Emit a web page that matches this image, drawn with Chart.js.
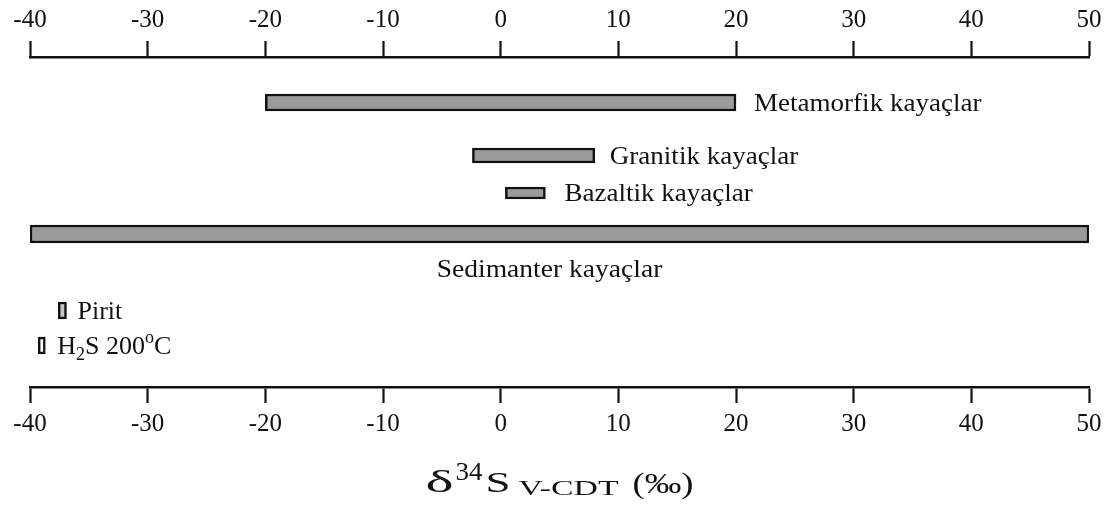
<!DOCTYPE html>
<html>
<head>
<meta charset="utf-8">
<script src="https://cdn.jsdelivr.net/npm/chart.js@4.4.1/dist/chart.umd.min.js"></script>
<style>
  html, body { margin: 0; padding: 0; background: #ffffff; }
  canvas { display: block; }
</style>
</head>
<body>
<canvas id="chart" width="1120" height="516"></canvas>
<script>
// δ34S ranges (‰, V-CDT) of rock types and sulfur sources.
// "_x" marks a subscript character, "^x" a superscript character.
const categories = ['Metamorfik kayaçlar', 'Granitik kayaçlar', 'Bazaltik kayaçlar',
                    'Sedimanter kayaçlar', 'Pirit', 'H_2S 200^oC'];
const rangeLow  = [-20, -2.4, 0.4, -40, -37.6, -39.3];
const rangeHigh = [ 20,  8,   3.8,  50, -36.9, -38.7];
const xTicks = [-40, -30, -20, -10, 0, 10, 20, 30, 40, 50];

// Row layout: vertical slot, bar thickness, fill, where the label goes.
const rowSlot      = [4.55, 9.85, 13.6, 17.7, 25.35, 28.85];
const rowThickness = [17, 15, 12, 18, 17, 17];
const rowFill      = ['#9a9a9a', '#9a9a9a', '#9a9a9a', '#9a9a9a', '#c6c6c6', '#ffffff'];
const labelSide    = ['right', 'right', 'right', 'below', 'right', 'right'];
const labelGap     = [18, 15, 19, 43, 11, 12];
const labelShift   = [0, 0, 0, -10, 0, 0];

const SERIF = '"Liberation Serif", "Times New Roman", serif';
const INK = '#111111';

function parseRich(s) {
  const out = [];
  let buf = '';
  for (let i = 0; i < s.length; i++) {
    const c = s[i];
    if ((c === '_' || c === '^') && i + 1 < s.length) {
      if (buf) { out.push({ t: buf, k: 0 }); buf = ''; }
      out.push({ t: s[i + 1], k: c === '_' ? -1 : 1 });
      i++;
    } else {
      buf += c;
    }
  }
  if (buf) out.push({ t: buf, k: 0 });
  return out;
}

// Draws a label with sub/superscripts, optionally stretched horizontally.
function drawRich(ctx, text, x, baseline, align, size, sx) {
  const segs = parseRich(text).map(seg => {
    const fs = seg.k === 0 ? size : Math.round(size * 0.68);
    ctx.font = fs + 'px ' + SERIF;
    return { ...seg, fs, w: ctx.measureText(seg.t).width * sx };
  });
  const total = segs.reduce((a, s) => a + s.w, 0);
  let cx = align === 'center' ? x - total / 2 : x;
  segs.forEach(seg => {
    const dy = seg.k === -1 ? size * 0.26 : seg.k === 1 ? -size * 0.40 : 0;
    ctx.save();
    ctx.font = seg.fs + 'px ' + SERIF;
    ctx.translate(cx, baseline + dy);
    ctx.scale(sx, 1);
    ctx.textAlign = 'left';
    ctx.textBaseline = 'alphabetic';
    ctx.fillText(seg.t, 0, 0);
    ctx.restore();
    cx += seg.w;
  });
}

// Axis title pieces: δ34S V-CDT (‰)
const titlePieces = [
  { t: 'δ',     size: 32, dy: 0,   w: 28,  gap: 2 },
  { t: '34',    size: 25, dy: -12, w: 27,  gap: 3 },
  { t: 'S',     size: 29, dy: 0,   w: 25,  gap: 8 },
  { t: 'V-CDT', size: 22, dy: 3,   w: 100, gap: 14 },
  { t: '(‰)',   size: 30, dy: 1,   w: 61,  gap: 0 }
];

const annotations = {
  id: 'annotations',
  afterDatasetsDraw(chart) {
    const ctx = chart.ctx;
    const xs = chart.scales.x, ys = chart.scales.y;
    ctx.save();
    ctx.fillStyle = INK;
    categories.forEach((name, i) => {
      const cy = ys.getPixelForValue(rowSlot[i]);
      if (labelSide[i] === 'below') {
        const cx = (xs.getPixelForValue(rangeLow[i]) + xs.getPixelForValue(rangeHigh[i])) / 2;
        drawRich(ctx, name, cx + labelShift[i], cy + labelGap[i], 'center', 26, 1.06);
      } else {
        const x0 = xs.getPixelForValue(rangeHigh[i]) + labelGap[i];
        drawRich(ctx, name, x0 + labelShift[i], cy + 8, 'left', 26, i < 3 ? 1.04 : 1.0);
      }
    });

    // axis title under the bottom scale
    const total = titlePieces.reduce((a, p) => a + p.w + p.gap, 0);
    let x = (chart.chartArea.left + chart.chartArea.right) / 2 - total / 2;
    const base = xs.bottom - 24;
    titlePieces.forEach(p => {
      ctx.font = p.size + 'px ' + SERIF;
      const nat = ctx.measureText(p.t).width;
      ctx.save();
      ctx.translate(x, base + p.dy);
      ctx.scale(p.w / nat, 1);
      ctx.textAlign = 'left';
      ctx.textBaseline = 'alphabetic';
      ctx.fillText(p.t, 0, 0);
      ctx.restore();
      x += p.w + p.gap;
    });
    ctx.restore();
  }
};

function axisOptions(position, height) {
  return {
    type: 'linear',
    position,
    min: xTicks[0],
    max: xTicks[xTicks.length - 1],
    afterBuildTicks: s => { s.ticks = xTicks.map(v => ({ value: v })); },
    afterFit: s => { s.height = height; },
    grid: {
      display: true,
      drawOnChartArea: false,
      drawTicks: true,
      tickLength: 16,
      tickWidth: 2.2,
      tickColor: INK
    },
    border: { display: true, color: INK, width: 2.5 },
    ticks: {
      padding: 6,
      color: INK,
      font: { family: SERIF, size: 25 },
      maxRotation: 0,
      autoSkip: false
    }
  };
}

new Chart(document.getElementById('chart'), {
  type: 'bar',
  data: {
    datasets: categories.map((name, i) => ({
      label: name,
      data: [{ x: [rangeLow[i], rangeHigh[i]], y: rowSlot[i] }],
      backgroundColor: rowFill[i],
      borderColor: INK,
      borderWidth: 2.5,
      borderSkipped: false,
      barThickness: rowThickness[i],
      grouped: false,
      xAxisID: 'x',
      yAxisID: 'y'
    }))
  },
  options: {
    indexAxis: 'y',
    responsive: false,
    animation: false,
    layout: { padding: { left: 30, right: 31, top: 0, bottom: 0 } },
    scales: {
      x: axisOptions('bottom', 129),
      xTop: axisOptions('top', 57),
      y: { type: 'linear', display: false, reverse: true, offset: false, min: 0, max: 33 }
    },
    plugins: {
      legend: { display: false },
      tooltip: { enabled: false }
    }
  },
  plugins: [annotations]
});
</script>
</body>
</html>
